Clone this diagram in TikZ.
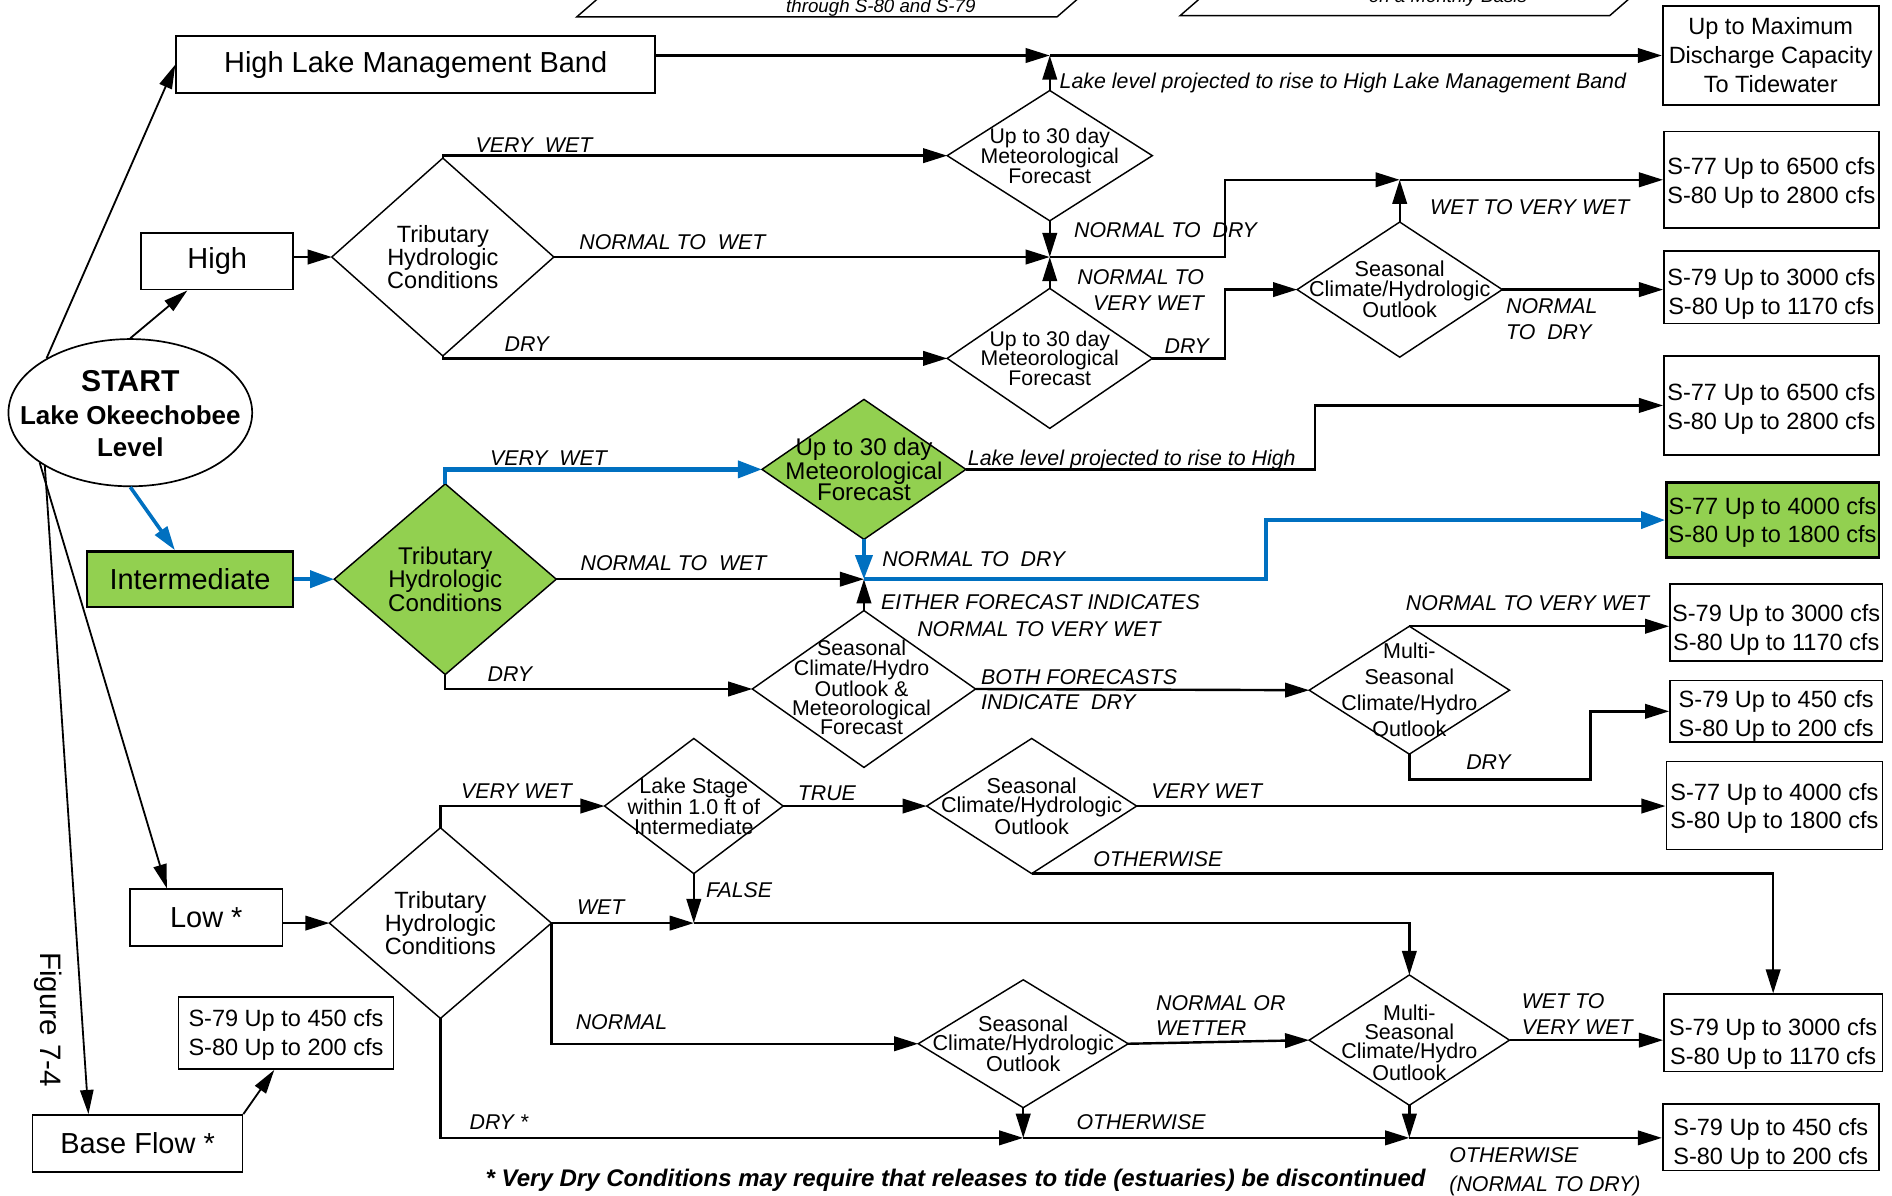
\documentclass[tikz,border=0pt]{standalone}
\usepackage{fontspec}
\setmainfont{Liberation Sans}
\usetikzlibrary{shapes.geometric,arrows.meta,calc}
\definecolor{gr}{HTML}{92D050}
\definecolor{bl}{HTML}{0070C0}
\begin{document}
\begin{tikzpicture}[x=1pt,y=-1pt,
 box/.style={draw, line width=1.4pt, rectangle, inner sep=0pt, align=center, text depth=0pt, font=\fontsize{19.5}{24}\selectfont},
 bigbox/.style={draw, line width=1.4pt, rectangle, inner sep=0pt, align=center, font=\fontsize{24}{28}\selectfont},
 dia/.style={draw, diamond, line width=1.2pt, inner sep=0pt, outer sep=0pt},
 dtxt/.style={align=center, inner sep=0pt, font=\fontsize{17.6}{16.5}\selectfont},
 con/.style={line width=2pt, -{Triangle[length=20pt,width=12pt]}},
 bcon/.style={line width=3.5pt, color=bl, -{Triangle[length=20pt,width=14pt]}},
 sarr/.style={line width=1.5pt, -{Triangle[length=20pt,width=11pt]}},
 lbl/.style={inner sep=0pt, font=\fontsize{17.7}{21}\selectfont\itshape, anchor=west},
]
\useasboundingbox (0,0) rectangle (1568,991);
\clip (0,0) rectangle (1568,991);

% top parallelograms (cut off at the top edge)
\draw[line width=1.2pt] (501,-6) -- (478,14) -- (876,14) -- (899,-6);
\node[inner sep=0pt, anchor=base, font=\fontsize{15.5}{18}\selectfont\itshape] (p1t) at (730,10) {through S-80 and S-79};
\draw[line width=1.2pt] (1001,-7) -- (978,13) -- (1334,13) -- (1357,-7);
\node[inner sep=0pt, anchor=base, font=\fontsize{15.5}{18}\selectfont\itshape] (p2t) at (1200,2) {on a Monthly Basis};

% start
\node[draw, ellipse, line width=1.4pt, minimum width=202pt, minimum height=122pt, inner sep=0pt] (start) at (108,342) {};
\node[align=center, inner sep=0pt, font=\bfseries\fontsize{21.5}{27}\selectfont] (startt) at (108,343)
      {{\fontsize{25}{28}\selectfont START}\\Lake Okeechobee\\Level};

% left boxes
\node[bigbox, minimum width=397pt, minimum height=47pt] (hlmb) at (344.5,53.5) {High Lake Management Band};
\node[bigbox, minimum width=126pt, minimum height=47pt] (high) at (180,216.5) {High};
\node[bigbox, fill=gr, line width=2pt, minimum width=171pt, minimum height=46pt] (inter) at (157.5,480) {Intermediate};
\node[bigbox, minimum width=126pt, minimum height=47pt] (low) at (171,760.5) {Low *};
\node[bigbox, minimum width=174pt, minimum height=47pt] (base) at (114,947.5) {Base Flow *};
\node[box, text height=38pt, minimum width=178pt, minimum height=60pt] (lb450) at (237,856) {S-79 Up to 450 cfs\\S-80 Up to 200 cfs};

% right boxes
\node[box, text height=62pt, minimum width=179pt, minimum height=82pt] (r1) at (1467.5,46) {Up to Maximum\\Discharge Capacity\\To Tidewater};
\node[box, text height=40pt, minimum width=178pt, minimum height=80pt] (r2) at (1468,149) {S-77 Up to 6500 cfs\\S-80 Up to 2800 cfs};
\node[box, text height=46pt, minimum width=178pt, minimum height=60pt] (r3) at (1468,238) {S-79 Up to 3000 cfs\\S-80 Up to 1170 cfs};
\node[box, text height=40pt, minimum width=178pt, minimum height=82pt] (r4) at (1468,336) {S-77 Up to 6500 cfs\\S-80 Up to 2800 cfs};
\node[box, text height=38pt, fill=gr, line width=2pt, minimum width=176pt, minimum height=62pt] (r5) at (1469,431) {S-77 Up to 4000 cfs\\S-80 Up to 1800 cfs};
\node[box, text height=46pt, minimum width=176pt, minimum height=64pt] (r6) at (1472,516) {S-79 Up to 3000 cfs\\S-80 Up to 1170 cfs};
\node[box, text height=41pt, minimum width=176pt, minimum height=51pt] (r7) at (1472,589.5) {S-79 Up to 450 cfs\\S-80 Up to 200 cfs};
\node[box, text height=39pt, minimum width=179pt, minimum height=73pt] (r8) at (1470.5,667.5) {S-77 Up to 4000 cfs\\S-80 Up to 1800 cfs};
\node[box, text height=52pt, minimum width=181pt, minimum height=64pt] (r9) at (1469.5,856) {S-79 Up to 3000 cfs\\S-80 Up to 1170 cfs};
\node[box, text height=45pt, minimum width=179pt, minimum height=55pt] (r10) at (1467.5,942.5) {S-79 Up to 450 cfs\\S-80 Up to 200 cfs};

% diamonds
\node[dia, minimum width=170pt, minimum height=108pt] (d1) at (870,129) {};
\node[dtxt] (d1t) at (d1) {Up to 30 day\\Meteorological\\Forecast};
\node[dia, minimum width=184pt, minimum height=164pt] (d2) at (367,213) {};
\node[dtxt, font=\fontsize{19.5}{17.5}\selectfont] (d2t) at (d2) {Tributary\\Hydrologic\\Conditions};
\node[dia, minimum width=170pt, minimum height=116pt] (d3) at (870,297) {};
\node[dtxt] (d3t) at (d3) {Up to 30 day\\Meteorological\\Forecast};
\node[dia, minimum width=170pt, minimum height=112pt] (d4) at (1160,240) {};
\node[dtxt, font=\fontsize{17.9}{16}\selectfont] (d4t) at (d4) {Seasonal\\Climate/Hydrologic\\Outlook};
\node[dia, fill=gr, minimum width=169pt, minimum height=116pt] (d5) at (716,389) {};
\node[dtxt, font=\fontsize{20}{18}\selectfont] (d5t) at (d5) {Up to 30 day\\Meteorological\\Forecast};
\node[dia, fill=gr, minimum width=184pt, minimum height=158pt] (d6) at (369,480) {};
\node[dtxt, font=\fontsize{20}{17.5}\selectfont] (d6t) at (d6) {Tributary\\Hydrologic\\Conditions};
\node[dia, minimum width=185pt, minimum height=130pt] (d7) at (716,571) {};
\node[dtxt, font=\fontsize{17.7}{16}\selectfont] (d7t) at (714,570) {Seasonal\\Climate/Hydro\\Outlook \&\\Meteorological\\Forecast};
\node[dia, minimum width=166pt, minimum height=106pt] (d8) at (1168,572) {};
\node[dtxt, font=\fontsize{17.8}{21.5}\selectfont] (d8t) at (d8) {Multi-\\Seasonal\\Climate/Hydro\\Outlook};
\node[dia, minimum width=148pt, minimum height=112pt] (d9) at (575,668) {};
\node[dtxt, font=\fontsize{17.8}{16.5}\selectfont] (d9t) at (d9) {Lake Stage\\within 1.0 ft of\\Intermediate};
\node[dia, minimum width=174pt, minimum height=112pt] (d10) at (855,668) {};
\node[dtxt, font=\fontsize{17.9}{16}\selectfont] (d10t) at (d10) {Seasonal\\Climate/Hydrologic\\Outlook};
\node[dia, minimum width=184pt, minimum height=158pt] (d11) at (365,765) {};
\node[dtxt, font=\fontsize{19.5}{17.5}\selectfont] (d11t) at (d11) {Tributary\\Hydrologic\\Conditions};
\node[dia, minimum width=174pt, minimum height=106pt] (d12) at (848,865) {};
\node[dtxt, font=\fontsize{17.9}{16}\selectfont] (d12t) at (d12) {Seasonal\\Climate/Hydrologic\\Outlook};
\node[dia, minimum width=166pt, minimum height=108pt] (d13) at (1168,862) {};
\node[dtxt, font=\fontsize{17.8}{16}\selectfont] (d13t) at (1168,864) {Multi-\\Seasonal\\Climate/Hydro\\Outlook};

% junctions and bends
\coordinate (j1) at (870,46);
\coordinate (j2) at (870,213);
\coordinate (j3) at (1160,149);
\coordinate (j4) at (716,480);
\coordinate (j5) at (575,765);
\coordinate (j6) at (848,943);
\coordinate (j7) at (1168,943);
\coordinate (b1) at (1015,149);
\coordinate (b2) at (1015,240);
\coordinate (b3) at (1049,431);
\coordinate (b4) at (1090,336);
\coordinate (b5) at (1318,646);

% start connectors
\draw[sarr] (start.147) -- (hlmb.west);
\draw[sarr] (start.north) -- ($(high.south west)+(39,0)$);
\draw[line width=3pt, color=bl, -{Triangle[length=20pt,width=12pt]}] (start.south) -- ($(inter.north west)+(74,0)$);
\draw[sarr] (start.209) -- ($(low.north west)+(31,0)$);
\draw[sarr] (start.212) -- ($(base.north west)+(47,0)$);
\draw[sarr] (base.north east) -- ($(lb450.south west)+(80,0)$);

% high lake band
\draw[con] (hlmb.east |- j1) -- (j1);
\draw[con] (j1) -- (r1.west |- j1);
\draw[con] (d1.north) -- (j1);

% high
\draw[con] (high.east |- d2.west) -- (d2.west);
\draw[con] (d2.north) |- (d1.west);
\draw[con] (d2.east) -- (j2);
\draw[con] (d2.south) |- (d3.west);
\draw[con] (d1.south) -- (j2);
\draw[con] (d3.north) -- (j2);
\draw[con] (j2) -| (b1) -- (j3);
\draw[con] (j3) -- (r2.west |- j3);
\draw[con] (d4.north) -- (j3);
\draw[con] (d3.east) -| (b2) -- (d4.west);
\draw[con] (d4.east) -- (r3.west |- d4.east);

% intermediate
\draw[bcon] (inter.east) -- (d6.west);
\draw[bcon] (d6.north) |- (d5.west);
\draw[con] (d6.east) -- (j4);
\draw[con] (d7.north) -- (j4);
\draw[bcon] (j4) -| (b3) -- (r5.west);
\draw[bcon] (d5.south) -- (j4);
\draw[con] (d5.east) -| (b4) -- (r4.west |- b4);
\draw[con] (d6.south) |- (d7.west);
\draw[con] (d7.east) -- (d8.west);
\draw[con] (d8.north) -- (r6.west |- d8.north);
\draw[con] (d8.south) |- (b5) |- (r7.west);

% low
\draw[con] (low.east |- d11.west) -- (d11.west);
\draw[con] (d11.north) |- (d9.west);
\draw[con] (d9.east) -- (d10.west);
\draw[con] (d10.east) -- (r8.west |- d10.east);
\draw[con] (d10.south) -| (r9.north);
\draw[con] (d9.south) -- (j5);
\draw[con] (d11.east) -- (j5);
\draw[con] (j5) -| (d13.north);
\draw[con] (d11.east) |- (d12.west);
\draw[con] (d12.east) -- (d13.west);
\draw[con] (d13.east) -- (r9.west |- d13.east);
\draw[con] (d11.south) |- (j6);
\draw[con] (d12.south) -- (j6);
\draw[con] (j6) -- (j7);
\draw[con] (d13.south) -- (j7);
\draw[con] (j7) -- (r10.west |- j7);

% labels
\node[lbl, anchor=base west] (l1) at (878,73) {Lake level projected to rise to High Lake Management Band};
\node[lbl] (l2) at (394,120) {VERY\ \ WET};
\node[lbl] (l3) at (480,201) {NORMAL TO\ \ WET};
\node[lbl] (l4) at (418,285) {DRY};
\node[lbl] (l5) at (890,191) {NORMAL TO\ \ DRY};
\node[lbl, anchor=east, align=right] (l6) at (998,240.5) {NORMAL TO\\VERY WET};
\node[lbl] (l7) at (1185,172) {WET TO VERY WET};
\node[lbl] (l8) at (965,287) {DRY};
\node[lbl, align=left] (l9) at (1248,264.5) {NORMAL\\TO\ \ DRY};
\node[lbl] (l10) at (406,380) {VERY\ \ WET};
\node[lbl] (l11) at (481,467) {NORMAL TO\ \ WET};
\node[lbl] (l12) at (731,463) {NORMAL TO\ \ DRY};
\node[lbl, anchor=base west] (l13) at (802,386) {Lake level projected to rise to High};
\node[lbl] (l14) at (730,499) {EITHER FORECAST INDICATES};
\node[lbl] (l15) at (760,521) {NORMAL TO VERY WET};
\node[lbl] (l16) at (404,559) {DRY};
\node[lbl] (l17) at (813,561) {BOTH FORECASTS};
\node[lbl] (l18) at (813,582) {INDICATE\ \ DRY};
\node[lbl] (l19) at (1165,500) {NORMAL TO VERY WET};
\node[lbl] (l20) at (1215,632) {DRY};
\node[lbl] (l21) at (382,656) {VERY WET};
\node[lbl] (l22) at (661,657) {TRUE};
\node[lbl] (l23) at (954,656) {VERY WET};
\node[lbl] (l24) at (906,712) {OTHERWISE};
\node[lbl] (l25) at (585,738) {FALSE};
\node[lbl] (l26) at (478,752) {WET};
\node[lbl] (l27) at (477,847) {NORMAL};
\node[lbl] (l28) at (958,831) {NORMAL OR};
\node[lbl] (l29) at (958,852) {WETTER};
\node[lbl] (l30) at (1261,830) {WET TO};
\node[lbl] (l31) at (1261,851) {VERY WET};
\node[lbl] (l32) at (389,930) {DRY *};
\node[lbl] (l33) at (892,930) {OTHERWISE};
\node[lbl] (l34) at (1201,957) {OTHERWISE};
\node[lbl] (l35) at (1201,983) {(NORMAL TO DRY)};

\node[rotate=-90, inner sep=0pt, font=\fontsize{24.5}{24}\selectfont] (fig) at (40,845) {Figure 7-4};
\node[inner sep=0pt, font=\fontsize{19.9}{21}\selectfont\bfseries\itshape] (note) at (792,978)
  {* Very Dry Conditions may require that releases to tide (estuaries) be discontinued};
\end{tikzpicture}
\end{document}
